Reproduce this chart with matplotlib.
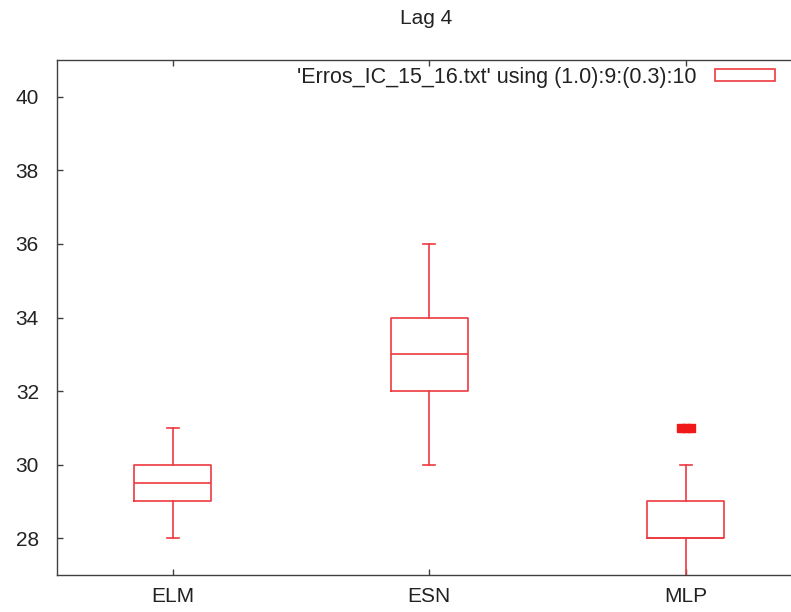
import matplotlib
matplotlib.use('Agg')
import matplotlib.pyplot as plt
from matplotlib.patches import Patch

plt.rcParams['font.family'] = ['Liberation Sans', 'DejaVu Sans']

# box statistics
labels = ['ELM', 'ESN', 'MLP']
positions = [1, 2, 3]
whisker_low = [28, 30, 26]
q1 = [29, 32, 28]
medians = [29.5, 33, 28]
q3 = [30, 34, 29]
whisker_high = [31, 36, 30]
outliers = [[], [], [31, 31, 31]]

yticks = [28, 30, 32, 34, 36, 38, 40]
legend_label = "'Erros_IC_15_16.txt' using (1.0):9:(0.3):10"

RED = '#ee3a3f'
AXCOL = '#404040'

fig = plt.figure(figsize=(7.91, 6.12), dpi=100)
ax = fig.add_axes([57 / 791, 37 / 612, (795 - 57) / 791, (575 - 60) / 612])

stats = []
for i in range(len(labels)):
    stats.append(dict(whislo=whisker_low[i], q1=q1[i], med=medians[i],
                      q3=q3[i], whishi=whisker_high[i], fliers=[]))

lp = dict(color=RED, linewidth=1.2)
ax.bxp(stats, positions=positions, widths=0.3, capwidths=0.047,
       boxprops=lp, medianprops=lp, whiskerprops=lp, capprops=lp,
       showfliers=False, manage_ticks=False)

# identical outliers get spread a little sideways like gnuplot does
for pos, vals in zip(positions, outliers):
    n = len(vals)
    for j, v in enumerate(vals):
        ax.plot(pos + (j - (n - 1) / 2) * 0.02, v, 's', color='#f01818',
                ms=6, mec='#f01818', zorder=4)

ax.set_xlim(0.549, 3.425)
ax.set_ylim(27, 41)
ax.set_xticks(positions)
ax.set_xticklabels(labels)
ax.set_yticks(yticks)

for s in ax.spines.values():
    s.set_color(AXCOL)
    s.set_linewidth(1.0)
ax.tick_params(axis='both', direction='in', length=4, width=1, color=AXCOL,
               labelsize=15, labelcolor='#222222', top=True, right=False)
ax.tick_params(axis='y', pad=13)
ax.tick_params(axis='x', pad=9)

fig.text(426 / 791, 1 - 18 / 612, 'Lag 4', ha='center', va='center',
         fontsize=15, color='#222222')

handle = Patch(facecolor='none', edgecolor=RED, linewidth=1.2)
fig.legend(handles=[handle], labels=[legend_label], loc='center right',
           bbox_to_anchor=(775 / 791, 1 - 77 / 612), frameon=False,
           markerfirst=False, fontsize=15.5, handlelength=2.8,
           handleheight=0.5, handletextpad=0.85, borderpad=0,
           borderaxespad=0, labelcolor='#222222')

fig.savefig('out.png', dpi=100)
